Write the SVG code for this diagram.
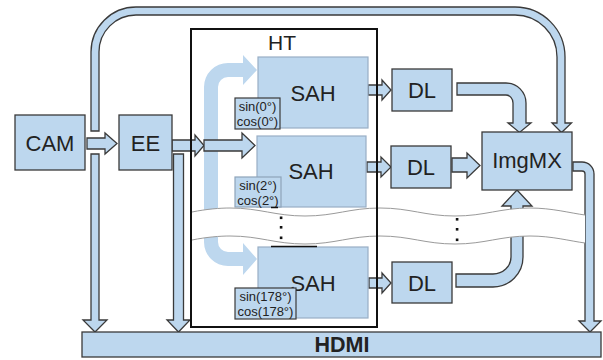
<svg xmlns="http://www.w3.org/2000/svg" width="603" height="360" viewBox="0 0 603 360">
<style>
.p{fill:#bdd7ee;stroke:#3a3a3a;stroke-width:1.3;stroke-linejoin:miter}
.d{fill:#bdd7ee;stroke:none}
.sah{fill:#bdd7ee;stroke:#98aec5;stroke-width:1.2}
.box{fill:#bdd7ee;stroke:#3a3a3a;stroke-width:1.3}
.lbl{fill:#bdd7ee;stroke:#3a3a3a;stroke-width:1.2}
.lbl2{fill:#bdd7ee;stroke:#8ea4ba;stroke-width:1.2}
text{font-family:"Liberation Sans",Arial,sans-serif;fill:#222;text-anchor:middle}
.big{font-size:22px}
.sm{font-size:13px}
.wave{fill:none;stroke:#9a9a9a;stroke-width:1}
</style>
<g id="connectors">
  <path class="p" d="M91,131 V52 A45,45 0 0 1 136,7 H515 A50,50 0 0 1 565,57 V123 H571.5 L561.5,132.5 L552,123 H557 V57 A42,42 0 0 0 515,15 H136 A37,37 0 0 0 99,52 V131 Z"/>
  <path class="p" d="M91,154 H99 V320 H107 L95,332 L83,320 H91 Z"/>
  <path class="p" d="M173.5,154 H183.5 V320 H190 L178.5,332 L167,320 H173.5 Z"/>
  <path class="d" d="M204,87 A24,24 0 0 1 228,63 H243 V55 L257,70 L243,85 V77 H228 A10,10 0 0 0 218,87 V242 A10,10 0 0 0 228,252 H243 V243 L257,259 L243,275 V266 H228 A24,24 0 0 1 204,242 Z"/>
  <path class="p" d="M87,138 H105 V133 L117,143.5 L105,154 V149 H87 Z"/>
  <path class="p" d="M172,140 H195 V135 L204,145.5 L195,156 V151 H172 Z"/>
  <path class="p" d="M204,140 H242 V133 L255,145.5 L242,158 V151 H204 Z"/>
  <path class="p" d="M368,85 H382 V80 L391,90 L382,100 V95 H368 Z"/>
  <path class="p" d="M367,162 H381 V157 L391,167 L381,177 V172 H367 Z"/>
  <path class="p" d="M369,278 H382 V273 L391,283 L382,293 V288 H369 Z"/>
  <path class="p" d="M452,158 H467 V153 L480,165.5 L467,178 V172 H452 Z"/>
  <path class="p" d="M457,83 H506 A20,20 0 0 1 526,103 V123 H531 L519.5,132.5 L508,123 H513 V103 A7,8 0 0 0 506,95 H457 Z"/>
  <path class="p" d="M456,274 H493 A18,17 0 0 0 511,257 V206 H502 L517,190 L532,206 H523 V257 A30,30 0 0 1 493,287 H456 Z"/>
  <path class="p" d="M573,162 H582 A12,12 0 0 1 594,174 V321 H601 L590,332 L579,321 H585 V174 A3,3 0 0 0 582,171 H573 Z"/>
</g>
<g id="SAH1">
  <rect class="sah" x="258" y="57" width="110" height="71"/>
  <text class="big" x="313" y="101">SAH</text>
  <rect class="lbl" x="235" y="98" width="45" height="31"/>
  <text class="sm" x="257.5" y="111">sin(0°)</text>
  <text class="sm" x="257.5" y="126">cos(0°)</text>
</g>
<g id="SAH2">
  <rect class="sah" x="257" y="136" width="109" height="71"/>
  <text class="big" x="311" y="179">SAH</text>
  <rect class="lbl2" x="235" y="177" width="46" height="30"/>
  <text class="sm" x="258" y="190">sin(2°)</text>
  <text class="sm" x="258" y="205">cos(2°)</text>
</g>
<g id="SAH3">
  <rect class="sah" x="258" y="247" width="110" height="71"/>
  <text class="big" x="313" y="291">SAH</text>
  <rect class="lbl" x="235" y="288" width="61" height="31"/>
  <text class="sm" x="265.5" y="301">sin(178°)</text>
  <text class="sm" x="265.5" y="316">cos(178°)</text>
</g>
<g id="DL1">
  <rect class="box" x="392" y="69" width="60" height="42"/>
  <text class="big" x="422" y="98">DL</text>
</g>
<g id="DL2">
  <rect class="box" x="391" y="146" width="60" height="42"/>
  <text class="big" x="421" y="175">DL</text>
</g>
<g id="DL3">
  <rect class="box" x="392" y="262" width="60" height="41"/>
  <text class="big" x="422" y="291">DL</text>
</g>
<g id="ImgMX">
  <rect class="box" x="482" y="132" width="90" height="58"/>
  <text class="big" x="527" y="168">ImgMX</text>
</g>
<g id="break">
  <path fill="#fff" d="M192,212 C207,209 220,208 230,208 C260,208 275,216 305,216 C335,216 350,208 380,208 C410,208 425,216 455,216 C485,216 500,208 530,208 C552,208 570,213 585,215 L585,243 C570,241 552,236 530,236 C500,236 485,244 455,244 C425,244 410,236 380,236 C350,236 335,244 305,244 C275,244 260,236 230,236 C220,236 207,237 192,240 Z"/>
  <path class="wave" d="M192,212 C207,209 220,208 230,208 C260,208 275,216 305,216 C335,216 350,208 380,208 C410,208 425,216 455,216 C485,216 500,208 530,208 C552,208 570,213 585,215"/>
  <path class="wave" d="M192,240 C207,237 220,236 230,236 C260,236 275,244 305,244 C335,244 350,236 380,236 C410,236 425,244 455,244 C485,244 500,236 530,236 C552,236 570,241 585,243"/>
  <g fill="#111">
    <rect x="279.8" y="216.5" width="2.6" height="2.6"/>
    <rect x="279.8" y="226" width="2.6" height="2.6"/>
    <rect x="279.8" y="236.5" width="2.6" height="2.6"/>
    <rect x="455.8" y="218" width="2.6" height="2.6"/>
    <rect x="455.8" y="228" width="2.6" height="2.6"/>
    <rect x="455.8" y="238.5" width="2.6" height="2.6"/>
  </g>
</g>
<g id="HT">
  <rect x="191" y="29" width="186" height="298" fill="none" stroke="#111" stroke-width="2"/>
  <text x="282" y="50" style="font-size:21px">HT</text>
  <line x1="271" y1="207.5" x2="278" y2="207.5" stroke="#111" stroke-width="1.5"/>
  <line x1="271" y1="246.5" x2="317" y2="246.5" stroke="#111" stroke-width="1.5"/>
</g>
<g id="CAM">
  <rect class="box" x="15" y="115" width="70" height="55"/>
  <text class="big" x="50" y="151">CAM</text>
</g>
<g id="EE">
  <rect class="box" x="119" y="115" width="53" height="55"/>
  <text class="big" x="145.5" y="151">EE</text>
</g>
<g id="HDMI">
  <rect class="box" x="82" y="332" width="519" height="25" stroke="#777"/>
  <text x="342" y="352" style="font-size:21.5px;font-weight:bold">HDMI</text>
</g>
</svg>
